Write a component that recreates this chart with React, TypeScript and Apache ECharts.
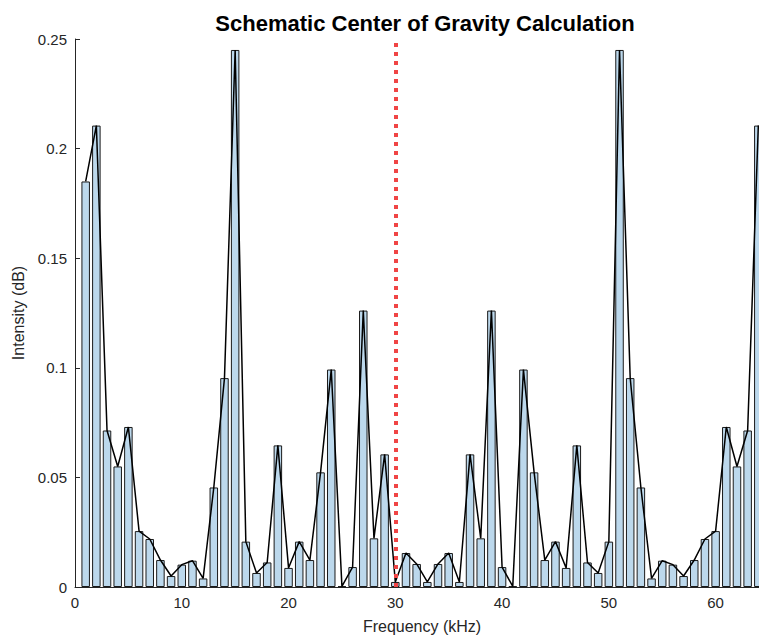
import React, { useEffect, useRef } from "react";
import * as echarts from "echarts";

// Frequency bins (kHz) and their intensities
const frequencies = [
  1, 2, 3, 4, 5, 6, 7, 8, 9, 10, 11, 12, 13, 14, 15, 16,
  17, 18, 19, 20, 21, 22, 23, 24, 25, 26, 27, 28, 29, 30, 31, 32,
  33, 34, 35, 36, 37, 38, 39, 40, 41, 42, 43, 44, 45, 46, 47, 48,
  49, 50, 51, 52, 53, 54, 55, 56, 57, 58, 59, 60, 61, 62, 63, 64,
];

const intensities = [
  0.185, 0.2105, 0.0714, 0.055, 0.073, 0.0255, 0.0219, 0.0123,
  0.005, 0.0102, 0.012, 0.0039, 0.0454, 0.0953, 0.245, 0.0207,
  0.0064, 0.0112, 0.0646, 0.0087, 0.0207, 0.0123, 0.0523, 0.0992,
  0.0003, 0.0091, 0.1261, 0.0222, 0.0605, 0.0023, 0.0155, 0.0105,
  0.0023, 0.0105, 0.0155, 0.0023, 0.0605, 0.0222, 0.1261, 0.0091,
  0.0003, 0.0992, 0.0523, 0.0123, 0.0207, 0.0087, 0.0646, 0.0112,
  0.0064, 0.0207, 0.245, 0.0953, 0.0454, 0.0039, 0.012, 0.0102,
  0.005, 0.0123, 0.0219, 0.0255, 0.073, 0.055, 0.0714, 0.2105,
];

// Center of gravity marker position (kHz)
const centerOfGravity = 30;

const FONT = "'Liberation Sans', Arial, Helvetica, sans-serif";
const INK = "#262626";

export default function App() {
  const ref = useRef<HTMLDivElement>(null);

  useEffect(() => {
    if (!ref.current) return;
    const chart = echarts.init(ref.current, undefined, { renderer: "svg" });
    const points = frequencies.map((f, i) => [f, intensities[i]]);

    chart.setOption({
      animation: false,
      backgroundColor: "#ffffff",
      textStyle: { fontFamily: FONT },
      title: {
        text: "Schematic Center of Gravity Calculation",
        left: 420,
        textAlign: "center",
        top: 7,
        textStyle: {
          fontFamily: FONT,
          fontWeight: "bold",
          fontSize: 22,
          color: "#000",
        },
      },
      grid: {
        left: 75,
        top: 39,
        width: 694,
        bottom: 49,
        outerBoundsMode: "none",
        containLabel: false,
      },
      xAxis: {
        type: "value",
        min: 0,
        max: 65,
        interval: 10,
        name: "Frequency (kHz)",
        nameLocation: "middle",
        nameGap: 31,
        nameTextStyle: { fontFamily: FONT, fontSize: 16, color: INK },
        axisLine: { show: true, lineStyle: { color: INK, width: 1 } },
        axisTick: { show: true, inside: true, length: 5, lineStyle: { color: INK } },
        axisLabel: {
          fontFamily: FONT,
          fontSize: 15,
          color: INK,
          margin: 8,
          showMaxLabel: false,
        },
        splitLine: { show: false },
      },
      yAxis: {
        type: "value",
        min: 0,
        max: 0.25,
        interval: 0.05,
        name: "Intensity (dB)",
        nameLocation: "middle",
        nameGap: 48,
        nameTextStyle: { fontFamily: FONT, fontSize: 16, color: INK },
        axisLine: { show: true, lineStyle: { color: INK, width: 1 } },
        axisTick: { show: true, inside: true, length: 5, lineStyle: { color: INK } },
        axisLabel: {
          fontFamily: FONT,
          fontSize: 15,
          color: INK,
          margin: 8,
          formatter: (v: number) => String(parseFloat(v.toFixed(2))),
        },
        splitLine: { show: false },
      },
      series: [
        {
          type: "bar",
          data: points,
          barWidth: 8.5,
          itemStyle: {
            color: "#bcd8ec",
            borderColor: "#1a1a1a",
            borderWidth: 1,
          },
          markLine: {
            silent: true,
            symbol: "none",
            label: { show: false },
            lineStyle: {
              color: "#f04545",
              width: 4,
              type: [4, 5],
              cap: "butt",
            },
            data: [{ xAxis: centerOfGravity }],
          },
          z: 2,
        },
        {
          type: "line",
          data: points,
          showSymbol: false,
          symbol: "none",
          lineStyle: { color: "#000", width: 1.5 },
          z: 3,
        },
      ],
    });

    return () => chart.dispose();
  }, []);

  return (
    <div
      ref={ref}
      style={{ position: "fixed", left: 0, top: 0, width: 759, height: 636 }}
    />
  );
}
